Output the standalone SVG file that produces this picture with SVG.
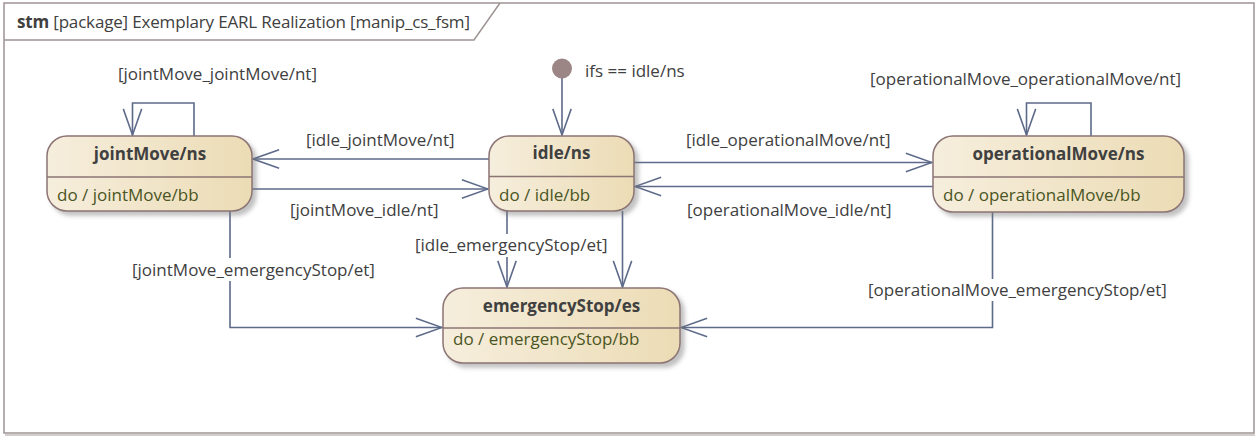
<svg xmlns="http://www.w3.org/2000/svg" width="1258" height="438" viewBox="0 0 1258 438">
<style>
text{font-family:"Open Sans","Noto Sans","DejaVu Sans",sans-serif;font-size:17px;fill:#404040}
.ttl{font-weight:bold;text-anchor:middle;fill:#404040}
.do{fill:#4a5523}
.node{fill:url(#g);stroke:#8c7474;stroke-width:1.5;filter:url(#sh)}
.div{stroke:#8c7474;stroke-width:1.5}
.c{fill:none;stroke:#5d6a89;stroke-width:1.6;marker-end:url(#arr)}
.bg{fill:#fff}
</style>
<defs>
<linearGradient id="g" x1="0" y1="0" x2="1" y2="0">
<stop offset="0" stop-color="#f6eedd"/>
<stop offset="1" stop-color="#ecdcb5"/>
</linearGradient>
<filter id="sh" x="-10%" y="-20%" width="130%" height="150%">
<feDropShadow dx="4" dy="4" stdDeviation="2" flood-color="#777" flood-opacity="0.45"/>
</filter>
<marker id="arr" markerUnits="userSpaceOnUse" markerWidth="30" markerHeight="24" viewBox="-29 -11 31 22" refX="0" refY="0" orient="auto">
<path d="M-27,-9.5 L0,0 L-27,9.5" fill="none" stroke="#5d6a89" stroke-width="1.6"/>
</marker>
</defs>
<g id="frame">
<rect x="4" y="3" width="1250" height="430" fill="#fff" stroke="#9e9494" stroke-width="1.5"/>
<line x1="5" y1="435" x2="1255" y2="435" stroke="#c4bcbc" stroke-width="1.5"/>
<path d="M4,40 H474 L500,3" fill="none" stroke="#9e9494" stroke-width="1.5"/>
<text x="17" y="28" textLength="453"><tspan font-weight="bold">stm</tspan> [package] Exemplary EARL Realization [manip_cs_fsm]</text>
</g>
<g id="connectors">
<path class="c" d="M194,136 V103 H132.5 V135"/>
<path class="c" d="M1091,136 V103 H1026.5 V135"/>
<path class="c" d="M562,78 V135"/>
<path class="c" d="M489,159 H253"/>
<path class="c" d="M252,189 H488"/>
<path class="c" d="M634,162.5 H932"/>
<path class="c" d="M933,186.5 H635"/>
<path class="c" d="M507,211 V287"/>
<path class="c" d="M622.5,211 V287"/>
<path class="c" d="M230,211 V327.5 H442"/>
<path class="c" d="M992.5,212 V327.5 H681"/>
<rect class="bg" x="130" y="258" width="249" height="23"/>
<rect class="bg" x="413" y="234" width="198" height="23"/>
<rect class="bg" x="866" y="279" width="304" height="22"/>
<text x="118" y="80">[jointMove_jointMove/nt]</text>
<text x="870" y="85">[operationalMove_operationalMove/nt]</text>
<text x="585" y="77">ifs == idle/ns</text>
<text x="306" y="146">[idle_jointMove/nt]</text>
<text x="290" y="216">[jointMove_idle/nt]</text>
<text x="686" y="146">[idle_operationalMove/nt]</text>
<text x="687" y="216">[operationalMove_idle/nt]</text>
<text x="415" y="251">[idle_emergencyStop/et]</text>
<text x="132" y="276">[jointMove_emergencyStop/et]</text>
<text x="868" y="296">[operationalMove_emergencyStop/et]</text>
</g>
<g id="initial">
<circle cx="562" cy="68.5" r="10" fill="#9b8585"/>
</g>
<g id="jointMove">
<rect class="node" x="47" y="136" width="205" height="75" rx="20"/>
<line class="div" x1="47" y1="177" x2="252" y2="177"/>
<text class="ttl" x="150" y="160">jointMove/ns</text>
<text class="do" x="57" y="201">do / jointMove/bb</text>
</g>
<g id="idle">
<rect class="node" x="489" y="136" width="145" height="75" rx="20"/>
<line class="div" x1="489" y1="176.5" x2="634" y2="176.5"/>
<text class="ttl" x="561.5" y="159">idle/ns</text>
<text class="do" x="499" y="201">do / idle/bb</text>
</g>
<g id="operationalMove">
<rect class="node" x="933" y="136" width="251" height="76" rx="20"/>
<line class="div" x1="933" y1="177" x2="1184" y2="177"/>
<text class="ttl" x="1058.5" y="160">operationalMove/ns</text>
<text class="do" x="943" y="201">do / operationalMove/bb</text>
</g>
<g id="emergencyStop">
<rect class="node" x="443" y="288" width="237" height="75" rx="20"/>
<line class="div" x1="443" y1="328" x2="680" y2="328"/>
<text class="ttl" x="561.5" y="312">emergencyStop/es</text>
<text class="do" x="453" y="345">do / emergencyStop/bb</text>
</g>
</svg>
